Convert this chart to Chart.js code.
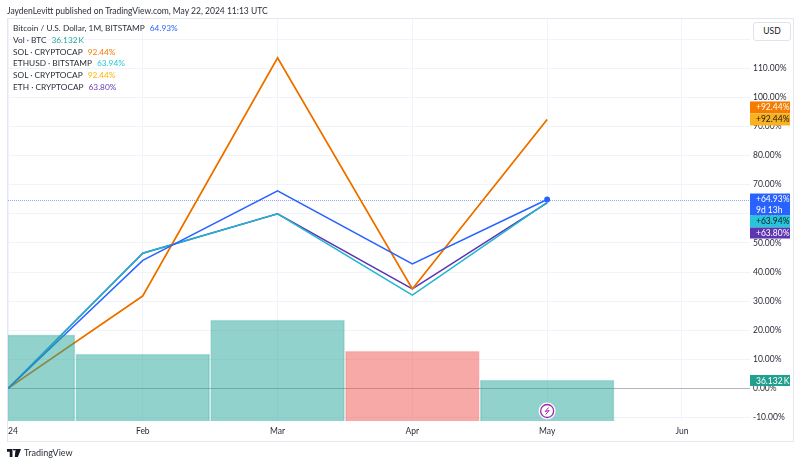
<!DOCTYPE html>
<html>
<head>
<meta charset="utf-8">
<script src="https://cdn.jsdelivr.net/npm/chart.js@4"></script>
<style>
  html, body { margin: 0; padding: 0; background: #fff; }
  body { width: 800px; height: 465px; position: relative; overflow: hidden; font-family: Lato, sans-serif; color: #131722; }
  canvas { position: absolute; left: 0; top: 0; }
  #frame { position: absolute; left: 7px; top: 18px; width: 785px; height: 422px; border: 1px solid #e5e7f0; box-sizing: content-box; pointer-events: none; }
  #header { position: absolute; left: 7px; top: 5px; font-size: 8.5px; line-height: 12px; color: #2a2e39; white-space: nowrap; }
  #legend { position: absolute; left: 13px; top: 23px; font-size: 8.3px; line-height: 11.8px; color: #2a2e39; white-space: nowrap; }
  #legend span { margin-left: 5px; }
  #unit { position: absolute; left: 753px; top: 22px; width: 36px; height: 17px; border: 1px solid #e0e3eb; border-radius: 3px; font-size: 8.5px; line-height: 17px; text-align: center; box-sizing: content-box; background: #fff; }
  #brand { position: absolute; left: 7px; top: 447px; font-size: 9px; line-height: 12px; color: #2a2e39; display: flex; align-items: center; }
  #brand svg { margin-right: 3px; }
</style>
</head>
<body>
<canvas id="chart" width="800" height="465"></canvas>
<div id="frame"></div>
<div id="header"></div>
<div id="legend"></div>
<div id="unit">USD</div>
<div id="brand">
  <svg width="14" height="8" viewBox="0 0 36 20"><path d="M0 0h14v20H7V7H0zM22 0h14l-8 20h-8zM15 0a3.5 3.5 0 1 1 0 .01z" fill="#131722"/></svg>
  TradingView
</div>
<script>
// values
const monthLabels = ['24', 'Feb', 'Mar', 'Apr', 'May', 'Jun'];
const btcValues = [0, 44, 67.9, 42.8, 64.93];
const ethusdValues = [0, 46.5, 60, 32.1, 63.94];
const ethValues = [0, 46.5, 60, 34.2, 63.8];
const solValues = [0, 31.8, 113.6, 34.2, 92.44];
const volumeValues = [75.8, 59, 89, 61.7, 36.132];

const headerText = 'JaydenLevitt published on TradingView.com, May 22, 2024 11:13 UTC';
const legendNames = ['Bitcoin / U.S. Dollar, 1M, BITSTAMP', 'Vol · BTC', 'SOL · CRYPTOCAP', 'ETHUSD · BITSTAMP', 'SOL · CRYPTOCAP', 'ETH · CRYPTOCAP'];
const legendValues = ['64.93%', '36.132\u2009K', '92.44%', '63.94%', '92.44%', '63.80%'];
const legendColors = ['#2962ff', '#26a69a', '#f57c00', '#26c6da', '#ffb300', '#673ab7'];

const BLUE = '#2962ff', CYAN = '#1fb6d2', PURPLE = '#5e35b1', ORANGE = '#ef6c00', YELLOW = '#f9b21d';
const GRID = '#f0f3fa';
const X_MAX = 5.505;

document.getElementById('header').textContent = headerText;
document.getElementById('legend').innerHTML = legendNames.map((name, i) =>
    `<div>${name}<span style="color:${legendColors[i]}">${legendValues[i]}</span></div>`).join('');

const toPoints = (values) => values.map((y, i) => ({ x: i, y: y }));

function lineSet(label, values, color, order) {
    return {
        type: 'line',
        label: label,
        data: toPoints(values),
        borderColor: color,
        backgroundColor: color,
        borderWidth: 1.5,
        tension: 0,
        pointRadius: 0,
        order: order,
        yAxisID: 'y'
    };
}

// Right side tags, drawn over the axis labels
function drawTag(ctx, area, top, height, color, textColor, lines) {
    ctx.fillStyle = color;
    ctx.fillRect(area.right, top, 40, height);
    ctx.fillStyle = textColor;
    ctx.font = '8.5px Lato, sans-serif';
    ctx.textAlign = 'left';
    ctx.textBaseline = 'middle';
    lines.forEach((line, i) => ctx.fillText(line, area.right + 6, top + 6 + i * 11));
}

const overlayPlugin = {
    id: 'overlay',
    beforeDatasetsDraw(chart) {
        const { ctx, chartArea: area, scales } = chart;
        const zeroY = Math.round(scales.y.getPixelForValue(0)) + 0.5;
        const lastY = Math.round(scales.y.getPixelForValue(btcValues[4])) + 0.5;
        ctx.save();
        ctx.strokeStyle = '#b2b5be';
        ctx.lineWidth = 1;
        ctx.beginPath();
        ctx.moveTo(area.left, zeroY);
        ctx.lineTo(area.right, zeroY);
        ctx.stroke();
        ctx.strokeStyle = '#8fa8fb';
        ctx.setLineDash([1, 1]);
        ctx.beginPath();
        ctx.moveTo(area.left, lastY);
        ctx.lineTo(area.right, lastY);
        ctx.stroke();
        ctx.restore();
    },
    afterDraw(chart) {
        const { ctx, chartArea: area, scales } = chart;
        const solY = scales.y.getPixelForValue(solValues[4]);
        const btcY = scales.y.getPixelForValue(btcValues[4]);
        const volY = scales.vol.getPixelForValue(volumeValues[4]);
        ctx.save();
        drawTag(ctx, area, solY - 18, 12, '#f57c00', '#fff', ['+92.44%']);
        drawTag(ctx, area, solY - 6, 12, YELLOW, '#131722', ['+92.44%']);
        drawTag(ctx, area, btcY - 6, 22, BLUE, '#fff', ['+64.93%', '9d 13h']);
        drawTag(ctx, area, btcY + 16, 12, '#26c6da', '#131722', ['+63.94%']);
        drawTag(ctx, area, btcY + 28, 11, PURPLE, '#fff', ['+63.80%']);
        drawTag(ctx, area, volY - 5, 11, '#22a08f', '#fff', ['36.132\u2009K']);

        // earnings style marker under the May column
        const cx = scales.x.getPixelForValue(4);
        const cy = area.bottom - 10;
        ctx.beginPath();
        ctx.arc(cx, cy, 8.5, 0, Math.PI * 2);
        ctx.fillStyle = '#fff';
        ctx.fill();
        ctx.beginPath();
        ctx.arc(cx, cy, 6.5, 0, Math.PI * 2);
        ctx.strokeStyle = '#9c27b0';
        ctx.lineWidth = 1.3;
        ctx.stroke();
        ctx.beginPath();
        ctx.moveTo(cx + 1.5, cy - 3.5);
        ctx.lineTo(cx - 2, cy + 0.5);
        ctx.lineTo(cx + 2, cy - 0.5);
        ctx.lineTo(cx - 1.5, cy + 3.5);
        ctx.lineWidth = 1;
        ctx.stroke();
        ctx.restore();
    }
};

const btcSet = lineSet('Bitcoin', btcValues, BLUE, 1);
btcSet.pointRadius = (c) => (c.dataIndex === btcValues.length - 1 ? 2.2 : 0);

new Chart(document.getElementById('chart').getContext('2d'), {
    data: {
        datasets: [
            {
                type: 'bar',
                label: 'Vol',
                data: toPoints(volumeValues),
                backgroundColor: (c) => (c.dataIndex > 0 && btcValues[c.dataIndex] < btcValues[c.dataIndex - 1]
                    ? 'rgba(239,83,80,0.5)' : 'rgba(38,166,154,0.5)'),
                borderColor: (c) => (c.dataIndex > 0 && btcValues[c.dataIndex] < btcValues[c.dataIndex - 1]
                    ? 'rgba(239,83,80,0.25)' : 'rgba(38,166,154,0.3)'),
                borderWidth: 1,
                barThickness: 134,
                order: 0,
                yAxisID: 'vol'
            },
            btcSet,
            lineSet('SOL', solValues, ORANGE, 2),
            lineSet('SOL', solValues, YELLOW, 3),
            lineSet('ETHUSD', ethusdValues, CYAN, 4),
            lineSet('ETH', ethValues, PURPLE, 5)
        ]
    },
    options: {
        responsive: false,
        animation: false,
        events: [],
        layout: { padding: { left: 8, top: 18, right: 8, bottom: 24 } },
        plugins: { legend: { display: false }, tooltip: { enabled: false } },
        scales: {
            x: {
                type: 'linear',
                min: 0,
                max: X_MAX,
                offset: false,
                afterBuildTicks: (axis) => {
                    axis.ticks = monthLabels.map((m, i) => ({ value: i })).concat([{ value: X_MAX }]);
                },
                afterFit: (axis) => { axis.height = 20; },
                grid: {
                    offset: false,
                    color: (c) => (c.tick && c.tick.value === X_MAX ? 'transparent' : GRID),
                    drawTicks: false
                },
                border: { display: false },
                ticks: {
                    autoSkip: false,
                    maxRotation: 0,
                    align: 'inner',
                    padding: 5,
                    color: '#2a2e39',
                    font: { family: 'Lato, sans-serif', size: 8.5 },
                    callback: (v) => (monthLabels[v] !== undefined ? monthLabels[v] : '')
                }
            },
            y: {
                position: 'right',
                min: -11.17,
                max: 127.3,
                afterBuildTicks: (axis) => {
                    const ticks = [];
                    for (let v = -10; v <= 120; v += 10) ticks.push({ value: v });
                    axis.ticks = ticks;
                },
                afterFit: (axis) => { axis.width = 42; },
                grid: { color: GRID, drawTicks: false },
                border: { display: false },
                ticks: {
                    padding: 3,
                    color: '#2a2e39',
                    font: { family: 'Lato, sans-serif', size: 8.5 },
                    callback: (v) => (v === 120 ? '' : v.toFixed(2) + '%')
                }
            },
            vol: {
                display: false,
                min: 0,
                max: 355
            }
        }
    },
    plugins: [overlayPlugin]
});
</script>
</body>
</html>
